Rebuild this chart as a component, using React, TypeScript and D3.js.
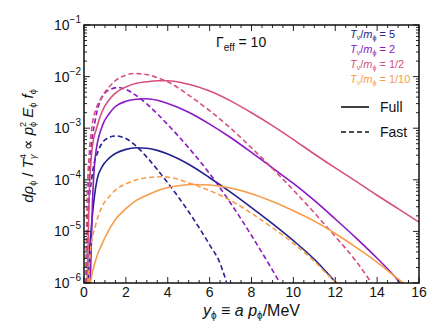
import * as d3 from 'd3';

const W = 447;
const H = 335;
const MARGIN = { top: 25, right: 28, bottom: 52, left: 84 };

// log10 values, per curve
const FULL_5_X = [0.2, 0.28, 0.38, 0.62, 0.86, 1.2, 1.5, 2, 2.5, 3, 3.5, 4, 5, 6, 7, 8, 9, 10, 11, 12.05];
const FULL_5_Y = [-6, -5.3, -4.78, -4.0, -3.75, -3.58, -3.49, -3.41, -3.38, -3.39, -3.43, -3.5, -3.7, -3.96, -4.24, -4.54, -4.85, -5.18, -5.54, -6];
const FAST_5_X = [0.1, 0.18, 0.38, 0.7, 1.1, 1.5, 2, 2.5, 3, 3.5, 4, 4.5, 5, 5.5, 6, 6.5, 6.8];
const FAST_5_Y = [-6, -4.8, -3.94, -3.42, -3.2, -3.15, -3.2, -3.35, -3.56, -3.8, -4.06, -4.33, -4.62, -4.93, -5.26, -5.62, -5.98];

const FULL_2_X = [0.3, 0.4, 0.54, 0.86, 1.2, 1.5, 2, 2.5, 3, 3.5, 4, 5, 6, 7, 8, 9, 10, 11, 12, 13, 14, 15, 15.1];
const FULL_2_Y = [-6, -4.5, -3.55, -2.97, -2.72, -2.58, -2.48, -2.44, -2.43, -2.46, -2.52, -2.69, -2.92, -3.18, -3.47, -3.77, -4.07, -4.4, -4.76, -5.13, -5.52, -5.95, -6];
const FAST_2_X = [0.15, 0.2, 0.3, 0.54, 0.8, 1.0, 1.3, 1.64, 2.0, 2.5, 3, 3.5, 4, 4.5, 5, 6, 7, 8, 9, 9.33];
const FAST_2_Y = [-6, -4.6, -3.6, -2.84, -2.45, -2.32, -2.24, -2.21, -2.25, -2.37, -2.53, -2.72, -2.93, -3.15, -3.38, -3.88, -4.45, -5.08, -5.75, -5.98];

const FULL_HALF_X = [0.15, 0.25, 0.38, 0.6, 0.86, 1.2, 1.5, 2, 2.5, 3, 3.5, 4, 5, 6, 7, 8, 9, 10, 11, 12, 13, 14, 15, 16];
const FULL_HALF_Y = [-6, -4.3, -3.42, -3.0, -2.68, -2.45, -2.32, -2.2, -2.13, -2.1, -2.08, -2.08, -2.15, -2.28, -2.47, -2.7, -2.95, -3.22, -3.5, -3.77, -4.03, -4.3, -4.56, -4.82];
const FAST_HALF_X = [0.08, 0.15, 0.25, 0.38, 0.6, 0.86, 1.2, 1.5, 2, 2.4, 3, 3.5, 4, 5, 6, 7, 8, 9, 10, 11, 12, 13, 13.7];
const FAST_HALF_Y = [-6, -4.4, -3.5, -2.97, -2.6, -2.39, -2.2, -2.08, -1.97, -1.94, -1.96, -2.02, -2.1, -2.36, -2.66, -3.0, -3.38, -3.78, -4.2, -4.64, -5.1, -5.58, -5.98];

const FULL_TENTH_X = [0.3, 0.4, 0.6, 0.8, 1.0, 1.5, 2, 2.5, 3, 3.5, 4, 4.6, 5.2, 6, 7, 8, 9, 10, 11, 12, 13, 14, 15, 15.25];
const FULL_TENTH_Y = [-6, -5.8, -5.5, -5.3, -5.12, -4.77, -4.56, -4.4, -4.3, -4.21, -4.15, -4.11, -4.09, -4.1, -4.16, -4.27, -4.42, -4.6, -4.8, -5.04, -5.31, -5.6, -5.92, -6];
const FAST_TENTH_X = [0.19, 0.3, 0.54, 0.86, 1.2, 1.5, 2, 2.5, 3, 3.7, 4.5, 5, 5.5, 6, 7, 8, 9, 10, 11, 11.8, 12.1];
const FAST_TENTH_Y = [-6, -5.4, -4.9, -4.52, -4.33, -4.2, -4.08, -4.0, -3.96, -3.94, -3.99, -4.06, -4.13, -4.21, -4.4, -4.65, -4.93, -5.23, -5.58, -5.9, -6];

const RATIOS = ['5', '2', '1/2', '1/10'];
const COLORS = ['#22228f', '#8a18c4', '#d6507e', '#f99c48'];

const SERIES = [
  { x: FULL_5_X, y: FULL_5_Y, c: 0, dash: false },
  { x: FAST_5_X, y: FAST_5_Y, c: 0, dash: true },
  { x: FULL_2_X, y: FULL_2_Y, c: 1, dash: false },
  { x: FAST_2_X, y: FAST_2_Y, c: 1, dash: true },
  { x: FULL_HALF_X, y: FULL_HALF_Y, c: 2, dash: false },
  { x: FAST_HALF_X, y: FAST_HALF_Y, c: 2, dash: true },
  { x: FULL_TENTH_X, y: FULL_TENTH_Y, c: 3, dash: false },
  { x: FAST_TENTH_X, y: FAST_TENTH_Y, c: 3, dash: true },
];

const X_TICKS = [0, 2, 4, 6, 8, 10, 12, 14, 16];
const Y_EXPONENTS = [-1, -2, -3, -4, -5, -6];

const FONT = '"Liberation Sans", Arial, sans-serif';

export default function App() {
  const innerW = W - MARGIN.left - MARGIN.right;
  const innerH = H - MARGIN.top - MARGIN.bottom;
  const x = d3.scaleLinear().domain([0, 16]).range([MARGIN.left, MARGIN.left + innerW]);
  const y = d3.scaleLog().domain([1e-6, 1e-1]).range([MARGIN.top + innerH, MARGIN.top]);
  const x0 = MARGIN.left, x1 = MARGIN.left + innerW;
  const y0 = MARGIN.top + innerH, y1 = MARGIN.top;

  const line = d3.line<[number, number]>()
    .x(d => x(d[0]))
    .y(d => y(Math.pow(10, d[1])))
    .curve(d3.curveMonotoneX);

  const xMinor = d3.range(0, 16.01, 0.5).filter(v => v % 2 !== 0);
  const yMinor: number[] = [];
  for (let e = -6; e < -1; e++) for (let k = 2; k <= 9; k++) yMinor.push(k * Math.pow(10, e));

  const MAJ = 6, MIN = 3;

  return (
    <svg width={W} height={H} style={{ position: 'absolute', left: 0, top: 0, background: '#fff' }} fontFamily={FONT}>
      <defs>
        <clipPath id="plot"><rect x={x0} y={y1} width={innerW} height={innerH} /></clipPath>
      </defs>

      <g clipPath="url(#plot)" fill="none" strokeWidth={1.6}>
        {SERIES.map((s, i) => (
          <path key={i}
            d={line(s.x.map((v, j) => [v, s.y[j]] as [number, number])) || ''}
            stroke={COLORS[s.c]}
            strokeDasharray={s.dash ? '5,3' : undefined} />
        ))}
      </g>

      {/* ticks, inward on all four sides */}
      <g stroke="#222" strokeWidth={1}>
        {X_TICKS.map(t => (
          <g key={'xt' + t}>
            <line x1={x(t)} x2={x(t)} y1={y0} y2={y0 - MAJ} />
            <line x1={x(t)} x2={x(t)} y1={y1} y2={y1 + MAJ} />
          </g>
        ))}
        {xMinor.map(t => (
          <g key={'xm' + t}>
            <line x1={x(t)} x2={x(t)} y1={y0} y2={y0 - MIN} />
            <line x1={x(t)} x2={x(t)} y1={y1} y2={y1 + MIN} />
          </g>
        ))}
        {Y_EXPONENTS.map(e => (
          <g key={'yt' + e}>
            <line x1={x0} x2={x0 + MAJ} y1={y(Math.pow(10, e))} y2={y(Math.pow(10, e))} />
            <line x1={x1} x2={x1 - MAJ} y1={y(Math.pow(10, e))} y2={y(Math.pow(10, e))} />
          </g>
        ))}
        {yMinor.map((v, i) => (
          <g key={'ym' + i}>
            <line x1={x0} x2={x0 + MIN} y1={y(v)} y2={y(v)} />
            <line x1={x1} x2={x1 - MIN} y1={y(v)} y2={y(v)} />
          </g>
        ))}
      </g>
      <rect x={x0} y={y1} width={innerW} height={innerH} fill="none" stroke="#111" strokeWidth={1.5} />

      {/* tick labels */}
      <g fontSize={14} fill="#111">
        {X_TICKS.map(t => (
          <text key={'xl' + t} x={x(t)} y={y0 + 14} textAnchor="middle">{t}</text>
        ))}
        {Y_EXPONENTS.map(e => (
          <text key={'yl' + e} x={x0 - 3} y={y(Math.pow(10, e)) + 5} textAnchor="end">
            10<tspan fontSize={10} dy={-7}>{'\u2212' + Math.abs(e)}</tspan>
          </text>
        ))}
      </g>

      {/* axis titles */}
      <text x={(x0 + x1) / 2} y={316} textAnchor="middle" fontSize={16} fill="#111">
        <tspan fontStyle="italic">y</tspan><tspan fontSize={10} dy={3}>{'\u03d5'}</tspan>
        <tspan dy={-3}> ≡ </tspan><tspan fontStyle="italic">a p</tspan>
        <tspan fontSize={10} dy={3}>{'\u03d5'}</tspan><tspan dy={-3}>/MeV</tspan>
      </text>
      <text transform={`translate(33,${(y0 + y1) / 2 - 8}) rotate(-90)`} textAnchor="middle" fontSize={15} fill="#111">
        <tspan fontStyle="italic">d</tspan><tspan fontStyle="italic">ρ</tspan>
        <tspan fontSize={9} dy={3}>{'\u03d5'}</tspan><tspan dy={-3}> / </tspan>
        <tspan fontStyle="italic">T</tspan><tspan fontSize={9} dy={-7}>4</tspan>
        <tspan fontSize={9} dx={-5} dy={10} fontStyle="italic">γ</tspan>
        <tspan dy={-3}> ∝ </tspan><tspan fontStyle="italic">p</tspan>
        <tspan fontSize={9} dy={-7}>2</tspan><tspan fontSize={9} dx={-5} dy={10}>{'\u03d5'}</tspan>
        <tspan dy={-3}> </tspan><tspan fontStyle="italic">E</tspan>
        <tspan fontSize={9} dy={3}>{'\u03d5'}</tspan><tspan dy={-3}> </tspan>
        <tspan fontStyle="italic">f</tspan><tspan fontSize={9} dy={3}>{'\u03d5'}</tspan>
      </text>

      <text x={216} y={47} fontSize={14} fill="#111">
        Γ<tspan fontSize={10} dy={4}>eff</tspan><tspan dy={-4}> = 10</tspan>
      </text>

      {/* colour legend, left-aligned */}
      <g fontSize={11}>
        {RATIOS.map((r, i) => (
          <text key={r} x={350} y={38 + i * 15} fill={COLORS[i]}>
            <tspan fontStyle="italic">T</tspan><tspan fontSize={7} dy={2}>ν</tspan>
            <tspan dy={-2}>/</tspan><tspan fontStyle="italic">m</tspan>
            <tspan fontSize={7} dy={2}>{'\u03d5'}</tspan><tspan dy={-2}>{' = ' + r}</tspan>
          </text>
        ))}
      </g>

      {/* line style legend */}
      <g fontSize={14} fill="#111">
        <line x1={341} x2={369} y1={107} y2={107} stroke="#111" strokeWidth={1.6} />
        <text x={380} y={112}>Full</text>
        <line x1={341} x2={369} y1={132} y2={132} stroke="#111" strokeWidth={1.6} strokeDasharray="5,3" />
        <text x={380} y={137}>Fast</text>
      </g>
    </svg>
  );
}
